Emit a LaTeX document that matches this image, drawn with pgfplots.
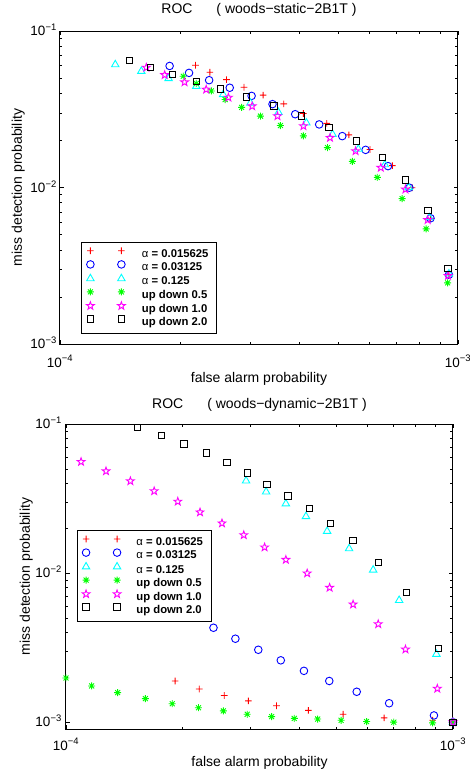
\documentclass[border=0pt]{standalone}
\usepackage{fontspec}
\setmainfont{Liberation Sans}
\usepackage{pgfplots}
\pgfplotsset{compat=1.18}

\definecolor{mlred}{rgb}{1,0,0}
\definecolor{mlblue}{rgb}{0,0,1}
\definecolor{mlcyan}{rgb}{0,1,1}
\definecolor{mlgreen}{rgb}{0,1,0}
\definecolor{mlmag}{rgb}{1,0,1}

% MATLAB-like marks
\pgfdeclareplotmark{pentagram}{%
  \pgfpathmoveto{\pgfpointpolar{90}{\pgfplotmarksize}}%
  \pgfpathlineto{\pgfpointpolar{126}{0.4*\pgfplotmarksize}}%
  \pgfpathlineto{\pgfpointpolar{162}{\pgfplotmarksize}}%
  \pgfpathlineto{\pgfpointpolar{198}{0.4*\pgfplotmarksize}}%
  \pgfpathlineto{\pgfpointpolar{234}{\pgfplotmarksize}}%
  \pgfpathlineto{\pgfpointpolar{270}{0.4*\pgfplotmarksize}}%
  \pgfpathlineto{\pgfpointpolar{306}{\pgfplotmarksize}}%
  \pgfpathlineto{\pgfpointpolar{342}{0.4*\pgfplotmarksize}}%
  \pgfpathlineto{\pgfpointpolar{18}{\pgfplotmarksize}}%
  \pgfpathlineto{\pgfpointpolar{54}{0.4*\pgfplotmarksize}}%
  \pgfpathclose
  \pgfusepathqstroke}
\pgfdeclareplotmark{mlstar}{%
  \pgfpathmoveto{\pgfqpoint{-\pgfplotmarksize}{0pt}}%
  \pgfpathlineto{\pgfqpoint{\pgfplotmarksize}{0pt}}%
  \pgfpathmoveto{\pgfqpoint{0pt}{-\pgfplotmarksize}}%
  \pgfpathlineto{\pgfqpoint{0pt}{\pgfplotmarksize}}%
  \pgfpathmoveto{\pgfpointpolar{45}{\pgfplotmarksize}}%
  \pgfpathlineto{\pgfpointpolar{225}{\pgfplotmarksize}}%
  \pgfpathmoveto{\pgfpointpolar{135}{\pgfplotmarksize}}%
  \pgfpathlineto{\pgfpointpolar{315}{\pgfplotmarksize}}%
  \pgfusepathqstroke}
% plus built from two thin filled bars
\pgfdeclareplotmark{barplus}{%
  \pgfsetfillcolor{mlred}%
  \pgfpathrectangle{\pgfqpoint{-\pgfplotmarksize}{-0.45pt}}{\pgfqpoint{2\pgfplotmarksize}{0.9pt}}%
  \pgfpathrectangle{\pgfqpoint{-0.45pt}{-\pgfplotmarksize}}{\pgfqpoint{0.9pt}{2\pgfplotmarksize}}%
  \pgfusepathqfill}

\newcommand\tickfont{\fontsize{13.5}{15}\selectfont}
\newcommand\labfont{\fontsize{14}{16}\selectfont}
\newcommand\legfont{\fontsize{11.3}{12}\selectfont\bfseries}
\newcommand\lt[1]{\makebox[70pt][l]{#1}}

\pgfplotsset{
  legend image code/.code={\draw[line width=0.9pt,#1] plot[only marks] coordinates {(0pt,4pt) (31pt,4pt)};},
  sa/.style={color=mlred, mark=barplus, mark size=3.3pt, mark options={fill=mlred, draw=none}},
  sb/.style={color=mlblue, mark=o, mark size=3.8pt, mark options={draw=mlblue, line width=0.9pt}},
  sc/.style={color=mlcyan, mark=triangle, mark size=4.3pt, mark options={draw=mlcyan, line width=0.9pt}},
  sd/.style={color=mlgreen, mark=mlstar, mark size=3.5pt, mark options={draw=mlgreen, line width=0.9pt}},
  se/.style={color=mlmag, mark=pentagram, mark size=4.1pt, mark options={draw=mlmag, line width=0.9pt}},
  sf/.style={color=black, mark=square, mark size=3.2pt, mark options={draw=black, line width=0.9pt}},
}

\begin{document}
\begin{tikzpicture}
\useasboundingbox (0pt,0pt) rectangle (470pt,-771pt);

% ---------- top: static ----------
\begin{axis}[
  scale only axis, anchor=south west,
  at={(60pt,-344pt)}, width=398pt, height=313pt,
  xmode=log, ymode=log,
  xmin=1e-4, xmax=1e-3, ymin=1e-3, ymax=1e-1,
  xtick={1e-4,1e-3},
  xticklabels={10\textsuperscript{−4},10\textsuperscript{−3}},
  ytick={1e-3,1e-2,1e-1},
  yticklabels={10\textsuperscript{−3},10\textsuperscript{−2},10\textsuperscript{−1}},
  minor xtick={2e-4,3e-4,4e-4,5e-4,6e-4,7e-4,8e-4,9e-4},
  minor ytick={2e-3,3e-3,4e-3,5e-3,6e-3,7e-3,8e-3,9e-3,2e-2,3e-2,4e-2,5e-2,6e-2,7e-2,8e-2,9e-2},
  tick align=inside, tick pos=both,
  major tick length=4pt, minor tick length=2.5pt,
  tick style={black, line width=0.5pt},
  axis line style={line width=1pt},
  ticklabel style={font=\tickfont},
  xticklabel style={anchor=base, yshift=-23pt},
  yticklabel style={anchor=base east, inner sep=0pt, xshift=-3pt, yshift=-4.8pt},
  title={ROC\hspace{24pt}( woods−static−2B1T )},
  title style={font=\labfont, at={(axis description cs:0.5,1)}, anchor=base, yshift=12pt},
  xlabel={false alarm probability},
  ylabel={miss detection probability},
  xlabel style={font=\labfont, at={(axis description cs:0.5,-0.1214)}, anchor=base},
  ylabel style={font=\labfont, at={(axis description cs:-0.0955,0.5)}, anchor=base},
  clip=false,
  legend cell align=left,
  legend style={at={(0.0528,0.326)}, anchor=north west, draw=black, line width=1pt, font=\legfont,
    inner xsep=5pt, inner ysep=5pt, column sep=16.7pt, row sep=0pt,
    nodes={inner sep=0pt, text height=8.2pt, text depth=3.5pt}},
]
\addplot[sa, only marks] coordinates {
  (2.19e-4,0.0604) (2.38e-4,0.0545) (2.62e-4,0.0489) (2.90e-4,0.0437)
  (3.24e-4,0.0389) (3.65e-4,0.0342) (4.09e-4,0.0297) (4.68e-4,0.0257)
  (5.32e-4,0.0217) (6.01e-4,0.0175) (6.84e-4,0.0138) (7.67e-4,0.00997)
  (8.53e-4,0.00636) (9.49e-4,0.00277)};
\addlegendentry{\lt{{\mdseries α} = 0.015625}}
\addplot[sb, only marks] coordinates {
  (1.886e-4,0.0598) (2.11e-4,0.0540) (2.37e-4,0.0485) (2.67e-4,0.0434)
  (3.03e-4,0.0385) (3.42e-4,0.0341) (3.90e-4,0.0294) (4.48e-4,0.0253)
  (5.12e-4,0.0213) (5.86e-4,0.0174) (6.67e-4,0.0137) (7.55e-4,0.00997)
  (8.53e-4,0.00636) (9.49e-4,0.00277)};
\addlegendentry{\lt{{\mdseries α} = 0.03125}}
\addplot[sc, only marks] coordinates {
  (1.377e-4,0.0610) (1.601e-4,0.0553) (1.875e-4,0.0497) (2.20e-4,0.0444)
  (2.57e-4,0.0393) (3.01e-4,0.0347) (3.54e-4,0.0302) (4.16e-4,0.0259)
  (4.84e-4,0.0219) (5.62e-4,0.0176) (6.55e-4,0.0140) (7.52e-4,0.0100)
  (8.47e-4,0.00643) (9.49e-4,0.00281)};
\addlegendentry{\lt{{\mdseries α} = 0.125}}
\addplot[sd, only marks] coordinates {
  (2.04e-4,0.0514) (2.20e-4,0.0462) (2.40e-4,0.0414) (2.60e-4,0.0365)
  (2.86e-4,0.0325) (3.19e-4,0.0286) (3.58e-4,0.0249) (4.09e-4,0.0214)
  (4.70e-4,0.0180) (5.43e-4,0.0147) (6.27e-4,0.0116) (7.24e-4,0.00849)
  (8.32e-4,0.00544) (9.42e-4,0.00246)};
\addlegendentry{\lt{up down 0.5}}
\addplot[se, only marks] coordinates {
  (1.648e-4,0.0584) (1.833e-4,0.0524) (2.056e-4,0.0471) (2.33e-4,0.0423)
  (2.65e-4,0.0376) (3.04e-4,0.0331) (3.52e-4,0.0286) (4.09e-4,0.0247)
  (4.77e-4,0.0208) (5.53e-4,0.0171) (6.40e-4,0.0134) (7.38e-4,0.00973)
  (8.39e-4,0.00621) (9.44e-4,0.00273)};
\addlegendentry{\lt{up down 1.0}}
\addplot[sf, only marks] coordinates {
  (1.497e-4,0.0647) (1.686e-4,0.0587) (1.915e-4,0.0529) (2.20e-4,0.0478)
  (2.53e-4,0.0427) (2.94e-4,0.0380) (3.45e-4,0.0332) (4.05e-4,0.0287)
  (4.74e-4,0.0242) (5.55e-4,0.0198) (6.45e-4,0.0155) (7.38e-4,0.0112)
  (8.41e-4,0.00712) (9.44e-4,0.00305)};
\addlegendentry{\lt{up down 2.0}}
\end{axis}

% ---------- bottom: dynamic ----------
\begin{axis}[
  scale only axis, anchor=south west,
  at={(66pt,-729pt)}, width=387pt, height=305pt,
  xmode=log, ymode=log,
  xmin=1e-4, xmax=1e-3, ymin=9e-4, ymax=1e-1,
  xtick={1e-4,1e-3},
  xticklabels={10\textsuperscript{−4},10\textsuperscript{−3}},
  ytick={1e-3,1e-2,1e-1},
  yticklabels={10\textsuperscript{−3},10\textsuperscript{−2},10\textsuperscript{−1}},
  minor xtick={2e-4,3e-4,4e-4,5e-4,6e-4,7e-4,8e-4,9e-4},
  minor ytick={9e-4,2e-3,3e-3,4e-3,5e-3,6e-3,7e-3,8e-3,9e-3,2e-2,3e-2,4e-2,5e-2,6e-2,7e-2,8e-2,9e-2},
  tick align=inside, tick pos=both,
  major tick length=4pt, minor tick length=2.5pt,
  tick style={black, line width=0.5pt},
  axis line style={line width=1pt},
  ticklabel style={font=\tickfont},
  xticklabel style={anchor=base, yshift=-21pt},
  yticklabel style={anchor=base east, inner sep=0pt, xshift=-4pt, yshift=-4.8pt},
  title={ROC\hspace{24pt}( woods−dynamic−2B1T )},
  title style={font=\labfont, at={(axis description cs:0.5,1)}, anchor=base, yshift=9.7pt},
  xlabel={false alarm probability},
  ylabel={miss detection probability},
  xlabel style={font=\labfont, at={(axis description cs:0.5,-0.1213)}, anchor=base},
  ylabel style={font=\labfont, at={(axis description cs:-0.093,0.5)}, anchor=base},
  clip=false,
  legend cell align=left,
  legend style={at={(0.0276,0.652)}, anchor=north west, draw=black, line width=1pt, font=\legfont,
    inner xsep=5pt, inner ysep=5pt, column sep=15.5pt, row sep=0pt,
    nodes={inner sep=0pt, text height=8.2pt, text depth=3.5pt}},
]
\addplot[sa, only marks] coordinates {
  (1.914e-4,0.00189) (2.21e-4,0.00167) (2.565e-4,0.00151) (2.96e-4,0.00139)
  (3.50e-4,0.00129) (4.23e-4,0.00120) (5.20e-4,0.00113) (6.64e-4,0.00107)
  (8.86e-4,0.00103) (1e-3,0.00100)};
\addlegendentry{\lt{{\mdseries α} = 0.015625}}
\addplot[sb, only marks] coordinates {
  (2.405e-4,0.00430) (2.74e-4,0.00363) (3.14e-4,0.00306) (3.59e-4,0.00260)
  (4.12e-4,0.00221) (4.79e-4,0.00189) (5.64e-4,0.00160) (6.84e-4,0.00134)
  (8.93e-4,0.00111) (1e-3,0.00100)};
\addlegendentry{\lt{{\mdseries α} = 0.03125}}
\addplot[sc, only marks] coordinates {
  (2.92e-4,0.0416) (3.29e-4,0.0351) (3.70e-4,0.0292) (4.17e-4,0.0240)
  (4.73e-4,0.0191) (5.39e-4,0.0146) (6.22e-4,0.0105) (7.26e-4,0.00657)
  (9.06e-4,0.00286) (1e-3,0.00100)};
\addlegendentry{\lt{{\mdseries α} = 0.125}}
\addplot[sd, only marks] coordinates {
  (1.0e-4,0.00198) (1.165e-4,0.00175) (1.360e-4,0.00158) (1.604e-4,0.00144)
  (1.882e-4,0.00133) (2.20e-4,0.00125) (2.55e-4,0.00119) (2.94e-4,0.00113)
  (3.40e-4,0.00109) (3.89e-4,0.00106) (4.47e-4,0.00105) (5.14e-4,0.00103)
  (5.98e-4,0.00101) (7.03e-4,0.00100) (8.86e-4,0.00099) (1e-3,0.00100)};
\addlegendentry{\lt{up down 0.5}}
\addplot[se, only marks] coordinates {
  (1.094e-4,0.0558) (1.269e-4,0.0483) (1.467e-4,0.0414) (1.690e-4,0.0355)
  (1.945e-4,0.0302) (2.22e-4,0.0256) (2.53e-4,0.0216) (2.88e-4,0.0180)
  (3.26e-4,0.0149) (3.70e-4,0.0123) (4.20e-4,0.00997) (4.80e-4,0.00799)
  (5.52e-4,0.00617) (6.41e-4,0.00455) (7.54e-4,0.00308) (9.11e-4,0.00168)
  (1e-3,0.00100)};
\addlegendentry{\lt{up down 1.0}}
\addplot[sf, only marks] coordinates {
  (1.532e-4,0.0950) (1.765e-4,0.0839) (2.017e-4,0.0734) (2.304e-4,0.0638)
  (2.606e-4,0.0550) (2.94e-4,0.0469) (3.31e-4,0.0395) (3.75e-4,0.0330)
  (4.25e-4,0.0271) (4.82e-4,0.0216) (5.52e-4,0.0166) (6.41e-4,0.0118)
  (7.57e-4,0.00743) (9.16e-4,0.00311) (1e-3,0.00100)};
\addlegendentry{\lt{up down 2.0}}
\end{axis}
\end{tikzpicture}
\end{document}
